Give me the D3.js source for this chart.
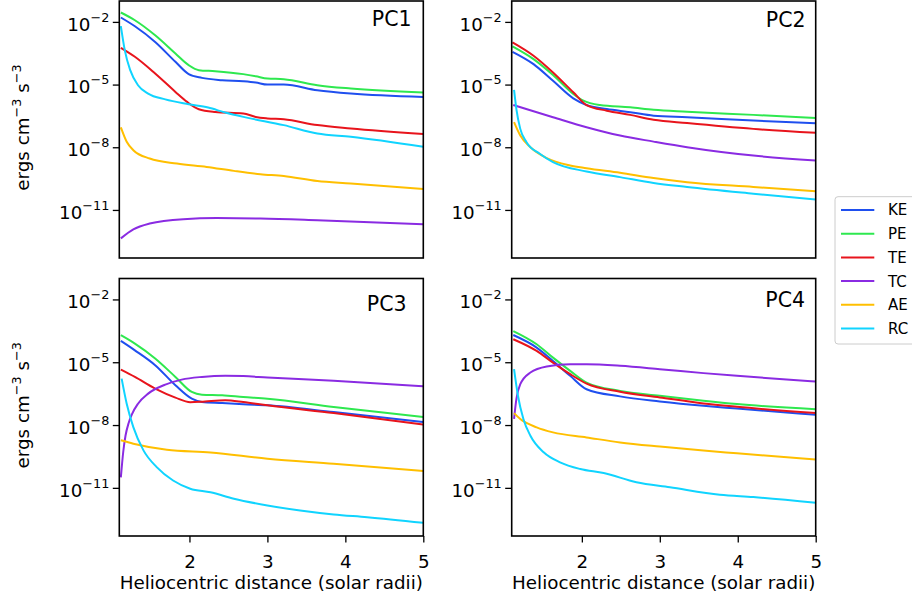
<!DOCTYPE html>
<html><head><meta charset="utf-8">
<script src="https://cdn.jsdelivr.net/npm/d3@7"></script>
<style>
body{margin:0;background:#fff}
svg{display:block;font-family:"DejaVu Sans",sans-serif}
</style>
</head><body>
<svg id="c" width="912" height="599"></svg>
<script>
// ---------- data ----------
const seriesNames = ["KE","PE","TE","TC","AE","RC"];
const seriesColors = ["#1f4fef","#2ee84f","#e8141c","#8a2be2","#ffbf00","#10d4ff"];
const panelTitles = ["PC1","PC2","PC3","PC4"];
const xTicks = [2,3,4,5];
const yTickExps = [-2,-5,-8,-11];
const xDomain = [1.1, 5];
const yDomainExp = [-13.3, -1.0];
const yLabelText = "ergs cm";
const xLabelText = "Heliocentric distance (solar radii)";

// each point: [distance, log10(energy)]
const PC1_KE = [[1.12,-1.79],[1.30,-2.21],[1.56,-2.96],[1.82,-3.91],[1.99,-4.50],[2.16,-4.68],[2.42,-4.79],[2.69,-4.84],[2.85,-4.90],[3.0,-5.0],[3.21,-5.0],[3.64,-5.27],[4.07,-5.43],[5.0,-5.59]];
const PC1_PE = [[1.12,-1.55],[1.30,-1.92],[1.56,-2.64],[1.82,-3.51],[1.99,-4.07],[2.12,-4.31],[2.33,-4.36],[2.69,-4.50],[2.85,-4.60],[3.0,-4.71],[3.21,-4.74],[3.64,-5.03],[4.07,-5.19],[5.0,-5.38]];
const PC1_TE = [[1.12,-3.24],[1.30,-3.67],[1.56,-4.47],[1.82,-5.35],[1.97,-5.83],[2.12,-6.18],[2.33,-6.31],[2.69,-6.38],[2.85,-6.55],[3.0,-6.62],[3.21,-6.66],[3.64,-6.94],[4.07,-7.10],[5.0,-7.36]];
const PC1_TC = [[1.12,-12.36],[1.28,-11.93],[1.49,-11.65],[1.92,-11.44],[2.35,-11.39],[2.91,-11.41],[3.64,-11.49],[5.0,-11.68]];
const PC1_AE = [[1.12,-7.05],[1.195,-7.74],[1.28,-8.14],[1.49,-8.54],[1.84,-8.78],[2.22,-8.94],[2.57,-9.13],[2.91,-9.29],[3.21,-9.38],[3.64,-9.62],[4.07,-9.73],[5.0,-10.0]];
const PC1_RC = [[1.12,-2.2],[1.17,-3.35],[1.24,-4.31],[1.34,-5.03],[1.47,-5.43],[1.69,-5.71],[1.99,-5.94],[2.24,-6.10],[2.46,-6.34],[2.72,-6.57],[3.21,-6.94],[3.64,-7.34],[4.07,-7.50],[5.0,-7.98]];

const PC2_KE = [[1.11,-3.43],[1.38,-4.02],[1.63,-4.82],[1.89,-5.66],[2.06,-5.98],[2.32,-6.17],[2.62,-6.32],[2.92,-6.49],[3.35,-6.56],[4.2,-6.72],[5.0,-6.85]];
const PC2_PE = [[1.11,-3.17],[1.38,-3.78],[1.63,-4.54],[1.89,-5.45],[2.02,-5.77],[2.23,-5.98],[2.62,-6.09],[2.92,-6.21],[3.35,-6.30],[4.2,-6.45],[5.0,-6.60]];
const PC2_TE = [[1.11,-2.98],[1.38,-3.62],[1.63,-4.42],[1.89,-5.37],[2.06,-5.98],[2.32,-6.25],[2.62,-6.45],[2.92,-6.68],[3.35,-6.84],[4.2,-7.12],[5.0,-7.31]];
const PC2_TC = [[1.12,-5.98],[1.63,-6.56],[2.06,-7.04],[2.49,-7.44],[2.92,-7.73],[3.35,-8.0],[4.2,-8.40],[5.0,-8.63]];
const PC2_AE = [[1.13,-6.80],[1.21,-7.44],[1.34,-8.0],[1.55,-8.52],[1.85,-8.87],[2.06,-9.0],[2.49,-9.22],[2.92,-9.47],[3.35,-9.67],[4.2,-9.90],[5.0,-10.11]];
const PC2_RC = [[1.13,-5.25],[1.16,-6.17],[1.21,-7.12],[1.29,-7.76],[1.46,-8.31],[1.63,-8.71],[2.06,-9.16],[2.49,-9.43],[2.92,-9.71],[3.35,-9.90],[4.2,-10.22],[5.0,-10.50]];

const PC3_KE = [[1.12,-3.98],[1.30,-4.43],[1.56,-5.14],[1.82,-6.10],[2.03,-6.74],[2.16,-6.90],[2.42,-6.95],[2.69,-7.01],[3.0,-7.06],[3.85,-7.38],[5.0,-7.86]];
const PC3_PE = [[1.12,-3.71],[1.30,-4.11],[1.56,-4.82],[1.82,-5.70],[2.03,-6.42],[2.16,-6.55],[2.42,-6.58],[2.69,-6.66],[3.0,-6.74],[3.85,-7.14],[5.0,-7.62]];
const PC3_TE = [[1.12,-5.35],[1.30,-5.70],[1.56,-6.26],[1.82,-6.69],[2.01,-6.91],[2.20,-6.87],[2.46,-6.82],[2.69,-6.90],[3.0,-7.06],[3.85,-7.43],[5.0,-7.98]];
const PC3_TC = [[1.12,-10.5],[1.15,-9.3],[1.18,-8.5],[1.22,-7.9],[1.26,-7.5],[1.34,-6.98],[1.47,-6.50],[1.69,-6.07],[1.90,-5.83],[2.16,-5.70],[2.46,-5.64],[2.69,-5.66],[3.0,-5.73],[3.85,-5.89],[5.0,-6.15]];
const PC3_AE = [[1.12,-8.73],[1.28,-8.89],[1.71,-9.18],[2.27,-9.31],[3.0,-9.61],[3.85,-9.85],[5.0,-10.20]];
const PC3_RC = [[1.13,-5.78],[1.195,-6.98],[1.28,-8.10],[1.41,-9.21],[1.58,-10.01],[1.79,-10.65],[2.01,-11.04],[2.27,-11.21],[2.57,-11.52],[3.0,-11.84],[3.42,-12.08],[3.85,-12.27],[4.28,-12.40],[5.0,-12.67]];

const PC4_KE = [[1.12,-3.70],[1.42,-4.30],[1.63,-4.94],[1.85,-5.65],[2.06,-6.29],[2.49,-6.63],[3.0,-6.87],[3.56,-7.08],[3.99,-7.21],[5.0,-7.51]];
const PC4_PE = [[1.12,-3.51],[1.42,-4.14],[1.63,-4.78],[1.85,-5.41],[2.06,-5.97],[2.49,-6.37],[3.0,-6.60],[3.56,-6.84],[3.99,-7.0],[5.0,-7.24]];
const PC4_TE = [[1.12,-3.90],[1.42,-4.46],[1.63,-5.02],[1.85,-5.57],[2.06,-6.02],[2.49,-6.41],[3.0,-6.68],[3.56,-6.97],[3.99,-7.13],[5.0,-7.43]];
const PC4_TC = [[1.13,-7.71],[1.16,-6.76],[1.21,-6.05],[1.34,-5.49],[1.55,-5.20],[1.85,-5.10],[2.06,-5.10],[2.49,-5.17],[3.0,-5.33],[3.56,-5.52],[3.99,-5.65],[5.0,-5.92]];
const PC4_AE = [[1.13,-7.43],[1.21,-7.71],[1.42,-8.11],[1.63,-8.35],[2.06,-8.59],[2.49,-8.83],[3.0,-9.03],[3.56,-9.22],[3.99,-9.35],[5.0,-9.65]];
const PC4_RC = [[1.13,-5.33],[1.18,-6.60],[1.25,-7.71],[1.34,-8.51],[1.51,-9.30],[1.72,-9.78],[1.98,-10.10],[2.28,-10.29],[2.70,-10.73],[3.13,-10.97],[3.77,-11.33],[4.2,-11.44],[5.0,-11.71]];

const panelData = [
  [PC1_KE,PC1_PE,PC1_TE,PC1_TC,PC1_AE,PC1_RC],
  [PC2_KE,PC2_PE,PC2_TE,PC2_TC,PC2_AE,PC2_RC],
  [PC3_KE,PC3_PE,PC3_TE,PC3_TC,PC3_AE,PC3_RC],
  [PC4_KE,PC4_PE,PC4_TE,PC4_TC,PC4_AE,PC4_RC]
];

// ---------- layout ----------
const cols = [[119.3,423.3],[511.7,815.7]];
const rows = [[1,258],[278.5,536]];
const titlePos = [[411.5,26],[805.5,26.5],[406.5,310.5],[805,306.5]];
const FS = 18.3, SUP = 12.8;

const svg = d3.select("#c");
const supMinus = "\u2212";

panelData.forEach((series, i) => {
  const col = i % 2, row = Math.floor(i/2);
  const [x0,x1] = cols[col], [y0,y1] = rows[row];
  const x = d3.scaleLinear().domain(xDomain).range([x0,x1]);
  const y = d3.scaleLog().domain([10**yDomainExp[0], 10**yDomainExp[1]]).range([y1,y0]);
  const g = svg.append("g");
  const cid = "clip"+i;
  svg.append("clipPath").attr("id",cid).append("rect")
     .attr("x",x0).attr("y",y0).attr("width",x1-x0).attr("height",y1-y0);

  const line = d3.line().x(d=>x(d[0])).y(d=>y(10**d[1])).curve(d3.curveMonotoneX);
  const lg = g.append("g").attr("clip-path",`url(#${cid})`);
  series.forEach((s,k) => {
    lg.append("path").datum(s).attr("d",line).attr("fill","none")
      .attr("stroke",seriesColors[k]).attr("stroke-width",2).attr("stroke-linejoin","round");
  });

  // y axis
  const ya = d3.axisLeft(y).tickValues(yTickExps.map(e=>10**e)).tickSize(6.5).tickFormat("");
  const yg = g.append("g").attr("transform",`translate(${x0},0)`).call(ya);
  yg.select(".domain").remove();
  yg.selectAll(".tick line").attr("stroke","#000").attr("stroke-width",1.3);
  yTickExps.forEach(e => {
    const t = g.append("text").attr("x",x0-10).attr("y",y(10**e)+8.8)
      .attr("text-anchor","end").attr("font-size",FS).attr("fill","#000");
    t.append("tspan").text("10");
    t.append("tspan").attr("dy",-9).attr("font-size",SUP).text(supMinus+Math.abs(e));
  });

  // x axis
  const xa = d3.axisBottom(x).tickValues(xTicks).tickSize(row===1?6.5:0).tickFormat(row===1?d3.format("d"):"");
  const xg = g.append("g").attr("transform",`translate(0,${y1})`).call(xa);
  xg.select(".domain").remove();
  xg.selectAll(".tick line").attr("stroke","#000").attr("stroke-width",1.3);
  xg.selectAll(".tick text").attr("font-size",FS).attr("font-family","DejaVu Sans").attr("fill","#000").attr("dy",0).attr("y",31.5);

  // frame
  g.append("rect").attr("x",x0).attr("y",y0).attr("width",x1-x0).attr("height",y1-y0)
    .attr("fill","none").attr("stroke","#000").attr("stroke-width",1.6);

  // title
  g.append("text").attr("x",titlePos[i][0]).attr("y",titlePos[i][1]).attr("text-anchor","end")
    .attr("font-size",20.5).text(panelTitles[i]);

  if (row===1) {
    g.append("text").attr("x",(x0+x1)/2).attr("y",589).attr("text-anchor","middle")
      .attr("font-size",FS).text(xLabelText);
  }
  if (col===0) {
    const cy = (y0+y1)/2 - 2;
    const t = g.append("text").attr("transform",`translate(28.5,${cy}) rotate(-90)`)
      .attr("text-anchor","middle").attr("font-size",FS);
    t.append("tspan").text(yLabelText);
    t.append("tspan").attr("dy",-8).attr("font-size",SUP).text(supMinus+"3");
    t.append("tspan").attr("dy",8).text(" s");
    t.append("tspan").attr("dy",-8).attr("font-size",SUP).text(supMinus+"3");
  }
});

// legend
const leg = svg.append("g");
leg.append("rect").attr("x",835).attr("y",196.7).attr("width",90).attr("height",147.3)
  .attr("rx",3).attr("fill","#fff").attr("stroke","#cccccc").attr("stroke-width",1);
seriesNames.forEach((n,k) => {
  const yy = 210 + k*23.7;
  leg.append("line").attr("x1",841).attr("x2",874.3).attr("y1",yy).attr("y2",yy)
    .attr("stroke",seriesColors[k]).attr("stroke-width",2);
  leg.append("text").attr("x",888).attr("y",yy+5.4).attr("font-size",15).text(n);
});
</script>
</body></html>
